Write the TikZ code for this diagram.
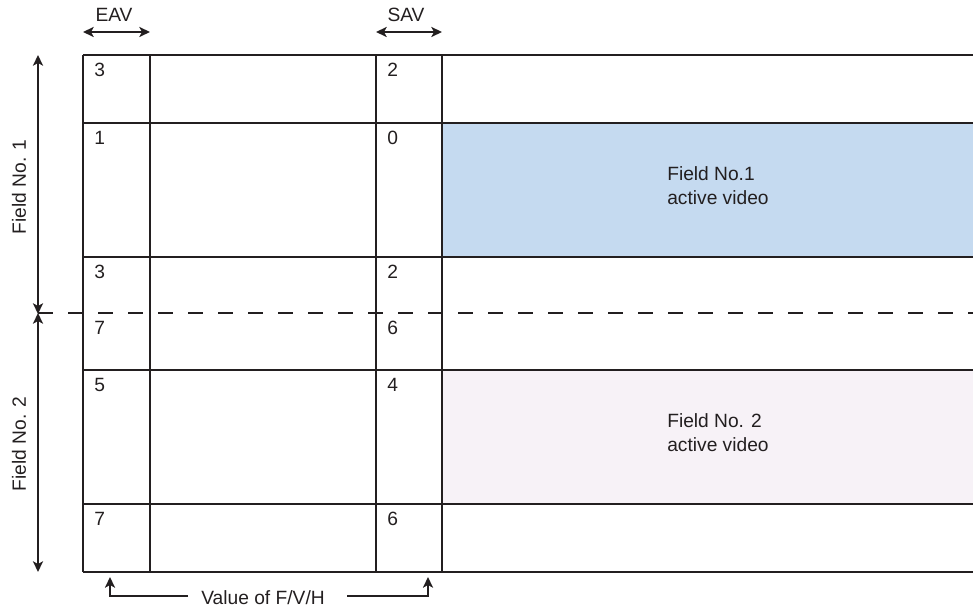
\documentclass[tikz,border=0pt]{standalone}
\usepackage{fontspec}
\setmainfont{Liberation Sans}
\usetikzlibrary{arrows.meta}
\definecolor{fieldblue}{HTML}{C5DAF0}
\definecolor{fieldpink}{HTML}{F7F2F7}
\definecolor{ink}{HTML}{231F20}
\begin{document}
\begin{tikzpicture}[x=0.75pt,y=-0.75pt,
  grid/.style={draw=ink,line width=1.8pt},
  dim/.style={draw=ink,line width=1.5pt,{Stealth[length=8pt,width=7.5pt,inset=2pt]}-{Stealth[length=8pt,width=7.5pt,inset=2pt]}},
  upar/.style={draw=ink,line width=1.5pt,-{Stealth[length=8pt,width=7.5pt,inset=2pt]}},
  num/.style={anchor=north west,inner sep=0pt,font=\fontsize{14.4}{18}\selectfont,text=ink},
  lbl/.style={inner sep=1pt,font=\fontsize{14.4}{18}\selectfont,text=ink},
  dashline/.style={draw=ink,line width=1.6pt,dash pattern=on 11.25pt off 11.25pt}]
\useasboundingbox (0,0) rectangle (973,609);
% fills
\fill[fieldblue] (442,123) rectangle (973,257);
\fill[fieldpink] (442,370) rectangle (973,504);
% horizontal grid lines
\foreach \y in {55,123,257,370,504,572} \draw[grid] (83,\y) -- (973,\y);
% vertical grid lines
\foreach \x in {83,150,376,442} \draw[grid] (\x,55) -- (\x,572);
% dashed separator
\coordinate (dl) at (38,313);
\coordinate (dr) at (973,313);
\draw[dashline] (dl) -- (dr);
% cell numbers
\node[num] (a1) at (94,63) {3};
\node[num] (b1) at (387,63) {2};
\node[num] (a2) at (94,131) {1};
\node[num] (b2) at (387,131) {0};
\node[num] (a3) at (94,265) {3};
\node[num] (b3) at (387,265) {2};
\node[num] (a4) at (94,321) {7};
\node[num] (b4) at (387,321) {6};
\node[num] (a5) at (94,378) {5};
\node[num] (b5) at (387,378) {4};
\node[num] (a6) at (94,512) {7};
\node[num] (b6) at (387,512) {6};
% field texts
\node[lbl,anchor=west,align=left,inner sep=0pt] (f1) at (667,186) {Field No.1\\active video};
\node[lbl,anchor=west,align=left,inner sep=0pt] (f2) at (667,433) {Field No. 2\\active video};
% top EAV / SAV
\node[lbl] (eav) at (114,15) {EAV};
\node[lbl] (sav) at (406,15) {SAV};
\coordinate (e1) at (83,32); \coordinate (e2) at (150,32);
\coordinate (s1) at (376,32); \coordinate (s2) at (442,32);
\draw[dim] (e1) -- (e2);
\draw[dim] (s1) -- (s2);
% left field arrows
\coordinate (t1) at (38,55); \coordinate (m1) at (38,314);
\coordinate (m2) at (38,313); \coordinate (t2) at (38,572);
\draw[dim] (t1) -- (m1);
\draw[dim] (m2) -- (t2);
\node[lbl,rotate=90] (fl1) at (19,187) {Field No. 1};
\node[lbl,rotate=90] (fl2) at (19,444) {Field No. 2};
% bottom F/V/H
\node[lbl,inner sep=0pt] (fvh) at (263,598) {Value of F/V/H};
\coordinate (u1) at (110,577); \coordinate (u2) at (428,577);
\coordinate (h1) at (188,596); \coordinate (h2) at (347,596);
\draw[upar] (h1) -| (u1);
\draw[upar] (h2) -| (u2);
\end{tikzpicture}
\end{document}
